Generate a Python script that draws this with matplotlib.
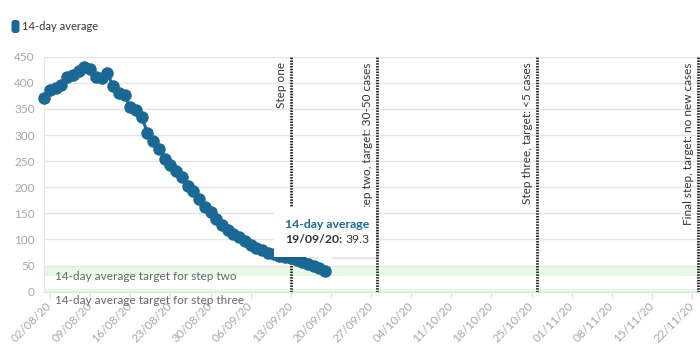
import matplotlib
matplotlib.use("Agg")
import pandas as pd
import matplotlib.pyplot as plt
import matplotlib.dates as mdates
from matplotlib.transforms import IdentityTransform
from matplotlib.patches import FancyBboxPatch, Polygon, Rectangle

# 14-day average of new cases, daily from 01/08/20
avg14 = [370, 386, 391, 396, 411, 415, 423, 431, 427, 412,
         409, 419, 393, 380, 376, 353, 348, 335, 303, 289,
         273, 255, 243, 231, 219, 202, 193, 177, 163, 152,
         139, 128, 119, 111, 104, 97, 90, 84, 79, 75,
         72, 69, 66.5, 64, 61, 57, 53, 49, 44.5, 39.3]
dates = pd.date_range("2020-08-01", periods=len(avg14), freq="D")

step_dates = ["2020-09-13", "2020-09-28", "2020-10-26", "2020-11-23"]
step_labels = ["Step one", "Step two, target: 30-50 cases",
               "Step three, target: <5 cases", "Final step, target: no new cases"]

band_ranges = [(30, 50), (0, 5)]
band_labels = ["14-day average target for step two",
               "14-day average target for step three"]

tick_dates = pd.date_range("2020-08-02", "2020-11-22", freq="7D")
y_ticks = [0, 50, 100, 150, 200, 250, 300, 350, 400, 450]

BLUE = "#1c6895"
GREY = "#a6a6a6"
DARK = "#333333"

plt.rcParams["font.family"] = ["Lato", "DejaVu Sans"]

W, H = 700, 360
fig = plt.figure(figsize=(W / 100, H / 100), dpi=100)
ax = fig.add_axes([44.3 / W, 1 - 291.7 / H, (700 - 44.3) / W, (291.7 - 56.7) / H])

x0 = mdates.date2num(dates[0])
ax.set_xlim(x0, x0 + 114.37)
ax.set_ylim(0, 450)

# target bands
for (lo, hi) in band_ranges:
    ax.axhspan(lo, hi, color="#e7f8e5", zorder=0, lw=0)
ax.annotate(band_labels[0], xy=(x0, 30), xytext=(8, 0), textcoords="offset points",
            ha="left", va="center", fontsize=8.5, color="#666666", annotation_clip=False)
ax.annotate(band_labels[1], xy=(x0, 0), xytext=(8, -6), textcoords="offset points",
            ha="left", va="center", fontsize=8.5, color="#666666", annotation_clip=False)

ax.plot(dates, avg14, color=BLUE, lw=2.2, marker="o", ms=8, zorder=3, clip_on=False)

# step lines
for d, lbl in zip(step_dates, step_labels):
    xd = mdates.date2num(pd.Timestamp(d))
    ax.axvline(xd, color="#222222", lw=2, ls=(0, (0.55, 0.45)), zorder=2, clip_on=False)
    ax.annotate(lbl, xy=(xd, 450), xytext=(-3, -4), textcoords="offset points",
                rotation=90, ha="right", va="top", fontsize=8.5, color=DARK)

ax.set_yticks(y_ticks)
ax.set_xticks(mdates.date2num(tick_dates))
ax.set_xticklabels([d.strftime("%d/%m/%y") for d in tick_dates])
ax.yaxis.grid(True, color="#e6e6e6", lw=1)
ax.set_axisbelow(True)
for s in ["top", "right"]:
    ax.spines[s].set_visible(False)
ax.spines["left"].set_color("#e6e6e6")
ax.spines["bottom"].set_color("#dde3ec")
ax.tick_params(axis="y", length=0, pad=7, labelsize=8.5, labelcolor=GREY)
ax.tick_params(axis="x", length=5, width=1, color="#dde3ec", pad=4,
               labelsize=8.5, labelcolor=GREY)
plt.setp(ax.get_xticklabels(), rotation=45, ha="right", va="center",
         rotation_mode="anchor")

# legend
idt = IdentityTransform()
fig.add_artist(FancyBboxPatch((11.5, H - 33), 8, 13, boxstyle="round,pad=0,rounding_size=3",
                              transform=idt, color=BLUE, lw=0))
fig.text(22, H - 26.5, "14-day average", transform=idt, fontsize=8,
         color=DARK, va="center", ha="left")

# tooltip for last point
px, py = ax.transData.transform((mdates.date2num(dates[-1]), avg14[-1]))
bx0, bx1, by0, by1 = px - 51, px + 51, py + 14, py + 64
for k in (3, 2, 1):
    fig.add_artist(Rectangle((bx0 + k, by0 - k), bx1 - bx0, by1 - by0, transform=idt,
                             color="black", alpha=0.04, lw=0, zorder=4))
fig.add_artist(Rectangle((bx0, by0), bx1 - bx0, by1 - by0, transform=idt,
                         color="white", lw=0, zorder=5))
fig.add_artist(Polygon([(px - 8, by0), (px + 8, by0), (px, py + 7)], transform=idt,
                       color="white", lw=0, zorder=5))
fig.text(px - 40, py + 47, "14-day average", transform=idt, fontsize=8.8,
         fontweight="bold", color=BLUE, va="center", ha="left", zorder=6)
t1 = fig.text(px - 40, py + 32, "19/09/20:", transform=idt, fontsize=8.8,
              fontweight="bold", color=DARK, va="center", ha="left", zorder=6)
fig.canvas.draw()
ext = t1.get_window_extent()
fig.text(ext.x1 + 3, py + 32, f"{avg14[-1]}", transform=idt, fontsize=8.8,
         color=DARK, va="center", ha="left", zorder=6)

fig.savefig("out.png", dpi=100)
